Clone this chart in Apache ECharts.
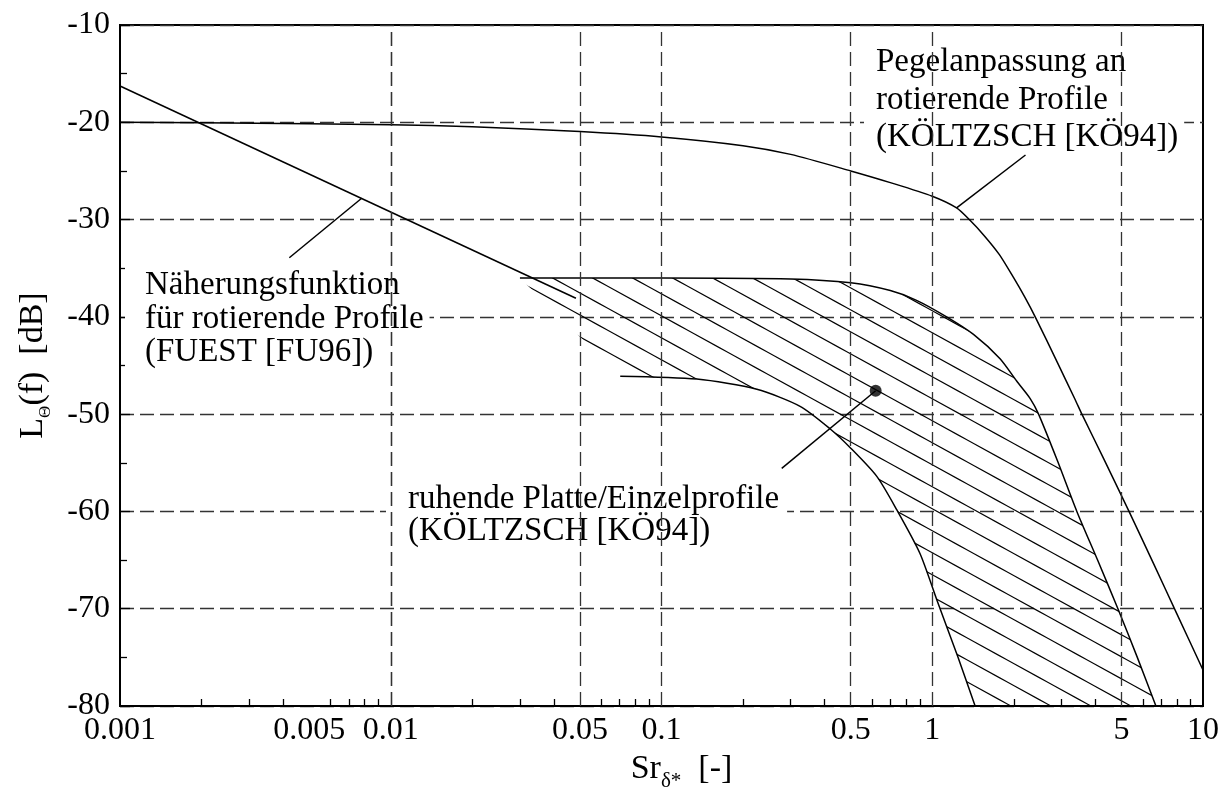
<!DOCTYPE html>
<html><head><meta charset="utf-8">
<script src="https://cdn.jsdelivr.net/npm/echarts@6/dist/echarts.min.js"></script>
<style>html,body{margin:0;padding:0;background:#fff}#c{width:1231px;height:793px}</style>
</head><body><div id="c"></div>
<script>
// ---------- data ----------
const xLabelValues = [0.001, 0.005, 0.01, 0.05, 0.1, 0.5, 1, 5, 10];
const xGridValues = [0.005, 0.01, 0.05, 0.1, 0.5, 1, 5];
const xMinorTickValues = [0.002,0.003,0.004,0.006,0.007,0.008,0.009,
  0.02,0.03,0.04,0.06,0.07,0.08,0.09,
  0.2,0.3,0.4,0.6,0.7,0.8,0.9,
  2,3,4,6,7,8,9];

const naeherung = [[0.001, -16.27], [0.0483, -38.09]];
const pegelanpassung = [[0.001,-20.0],[0.002,-20.05],[0.005,-20.15],[0.01,-20.25],[0.02,-20.45],
  [0.05,-20.95],[0.1,-21.5],[0.2,-22.4],[0.3,-23.3],[0.5,-25.0],[0.7,-26.2],[1.0,-27.6],
  [1.23,-28.8],[1.37,-30.0],[1.55,-31.6],[1.77,-33.6],[2.0,-36.0],[2.2,-38.0],[2.4,-40.0],[2.9,-44.7],
  [3.37,-48.5],[3.57,-50.0],[4.3,-54.6],[5.33,-60.0],[6.6,-65.5],[8.0,-70.5],[10,-76.3]];
const bandUpper = [[0.030,-36.0],[0.1,-36.0],[0.3,-36.1],[0.5,-36.5],[0.7,-37.3],[0.875,-38.3],
  [1.13,-40.0],[1.42,-41.8],[1.78,-44.3],[2.05,-46.6],[2.3,-48.4],[2.47,-50.0],[2.9,-54.8],
  [3.42,-60.0],[4.08,-65.0],[4.85,-70.0],[5.72,-75.0],[6.7,-80.0]];
const bandLower = [[0.0704,-46.1],[0.135,-46.4],[0.225,-47.45],[0.325,-49.2],[0.419,-51.5],
  [0.5,-53.5],[0.624,-56.4],[0.74,-59.85],[0.90,-64.3],[1.04,-69.1],[1.245,-75.0],[1.44,-80.0]];
const naeherungLeader = [[0.00422,-33.92],[0.00781,-27.81]];
const pegelLeader = [[1.23,-28.8],[2.21,-23.36]];
const ruhendeLeader = [[0.618,-47.6],[0.278,-55.57]];
const ruhendeDot = [[0.618,-47.6]];

// ---------- build ----------
const FONT = 'Liberation Serif, Times New Roman, serif';
const bandPolygon = bandUpper.concat(bandLower.slice().reverse());

function hatchPattern(){
  const W = 40, H = 22, off = 18;
  const c = document.createElement('canvas'); c.width = W; c.height = H;
  const g = c.getContext('2d'); g.strokeStyle = '#000'; g.lineWidth = 1.1;
  for (let k = -3; k <= 3; k++) {
    g.beginPath(); g.moveTo(-W, off + k*H - H); g.lineTo(2*W, off + k*H + 2*H); g.stroke();
  }
  return c;
}
const hatch = hatchPattern();

const lineBase = {type:'line', showSymbol:false, symbol:'none', silent:true, z:3,
  lineStyle:{color:'#000', width:1.5}, animation:false};

const chart = echarts.init(document.getElementById('c'), null, {renderer:'canvas'});
chart.setOption({
  animation:false,
  backgroundColor:'#fff',
  grid:{left:120, right:28, top:25, bottom:87, show:true, borderColor:'#000', borderWidth:2,
    backgroundColor:'transparent', containLabel:false, outerBoundsMode:'none'},
  xAxis:[{
    type:'log', logBase:10, min:0.001, max:10, position:'bottom',
    axisLine:{show:true, lineStyle:{color:'#000', width:2}},
    axisTick:{show:true, inside:true, length:7, customValues:xMinorTickValues, lineStyle:{color:'#000', width:1.3}},
    minorTick:{show:false},
    axisLabel:{show:true, customValues:xLabelValues, margin:9, color:'#000', fontFamily:FONT, fontSize:32,
      formatter:v => String(+(+v).toPrecision(6))},
    splitLine:{show:false},
    name:'Sr{sub|δ*}  [-]', nameLocation:'middle', nameGap:36,
    nameTextStyle:{color:'#000', fontFamily:FONT, fontSize:34, padding:[0,0,0,40],
      rich:{sub:{fontFamily:FONT, fontSize:21, verticalAlign:'bottom', padding:[0,0,-6,0]}}}
  }],
  yAxis:[{
    type:'value', min:-80, max:-10, interval:10,
    axisLine:{show:true, lineStyle:{color:'#000', width:2}},
    axisTick:{show:true, inside:true, length:10, lineStyle:{color:'#000', width:1.3}},
    minorTick:{show:true, splitNumber:2, length:7, lineStyle:{color:'#000', width:1.3}},
    axisLabel:{margin:10, color:'#000', fontFamily:FONT, fontSize:32},
    splitLine:{show:true, lineStyle:{color:'#333', width:1.3, type:[14,6]}},
    name:'L{sub|Θ}(f)  [dB]', nameLocation:'middle', nameGap:70,
    nameTextStyle:{color:'#000', fontFamily:FONT, fontSize:34,
      rich:{sub:{fontFamily:FONT, fontSize:17, verticalAlign:'bottom', padding:[0,0,-4,0]}}}
  }],
  graphic:[
    {type:'text', left:864, top:29, z:1, silent:true, style:{text:'Pegelanpassung an\nrotierende Profile\n(KÖLTZSCH [KÖ94])',
      font:'33px ' + FONT, fill:'#000', lineHeight:37.5, backgroundColor:'#fff', padding:[15,6,0,12]}},
    {type:'text', left:125, top:259, z:1, silent:true, style:{text:'Näherungsfunktion\nfür rotierende Profile\n(FUEST [FU96])',
      font:'33px ' + FONT, fill:'#000', lineHeight:33.5, backgroundColor:'#fff', padding:[10,6,14,20]}},
    {type:'text', left:386, top:473, z:1, silent:true, style:{text:'ruhende Platte/Einzelprofile\n(KÖLTZSCH [KÖ94])',
      font:'33px ' + FONT, fill:'#000', lineHeight:32, backgroundColor:'#fff', padding:[10,8,12,22]}}
  ],
  series:[
    {type:'line', data:[], z:0, silent:true,
      markLine:{silent:true, symbol:['none','none'], animation:false, label:{show:false},
        lineStyle:{color:'#333', width:1.3, type:[14,6]},
        data:xGridValues.map(v => ({xAxis:v}))}},
    {type:'custom', coordinateSystem:'cartesian2d', data:bandPolygon, clip:true, silent:true, z:1,
      renderItem:function(params, api){
        if (params.dataIndex !== 0) return null;
        const pts = bandPolygon.map(p => api.coord(p));
        return {type:'polygon', shape:{points:pts}, style:{fill:{image:hatch, repeat:'repeat'}, stroke:null}};
      }},
    Object.assign({}, lineBase, {data:naeherung}),
    Object.assign({}, lineBase, {data:pegelanpassung, smooth:0.25}),
    Object.assign({}, lineBase, {data:bandUpper, smooth:0.25}),
    Object.assign({}, lineBase, {data:bandLower, smooth:0.25}),
    Object.assign({}, lineBase, {data:naeherungLeader}),
    Object.assign({}, lineBase, {data:pegelLeader}),
    Object.assign({}, lineBase, {data:ruhendeLeader}),
    {type:'scatter', data:ruhendeDot, symbol:'circle', symbolSize:12, itemStyle:{color:'#000'}, z:4, silent:true}
  ]
});
</script></body></html>
